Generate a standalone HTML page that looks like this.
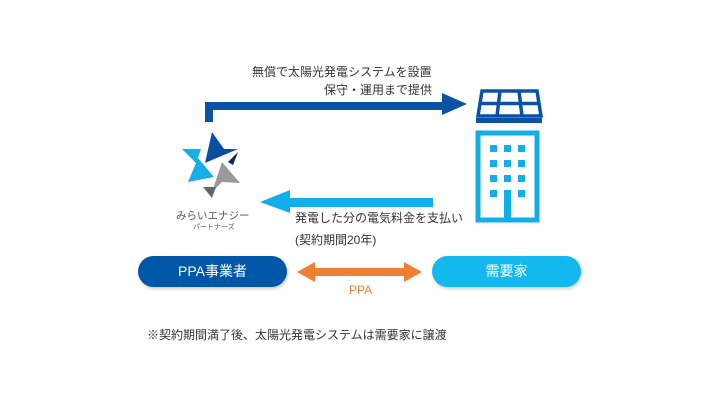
<!DOCTYPE html>
<html><head><meta charset="utf-8"><style>
body{margin:0;width:720px;height:405px;background:#fff;overflow:hidden;position:relative;font-family:"Liberation Sans","Noto Sans CJK JP",sans-serif;color:#333}
.t{position:absolute;white-space:nowrap;font-size:12px}
.btn{position:absolute;top:256px;width:149px;height:31px;border-radius:16px;color:#fff;font-size:14px;text-align:center;line-height:31px;box-shadow:1px 2px 3px rgba(0,0,0,.2)}
</style></head><body>
<svg width="720" height="405" style="position:absolute;left:0;top:0">
<path d="M205 122 V102 H442 V93 L467 104 L442 115 V110 H213 V122 Z" fill="#0a52a3"/>
<path d="M433 198 H290 V190 L260 202 L290 213 V207 H433 Z" fill="#12aee9"/>
<path d="M297 272 L315 262 V268 H404 V262 L422 272 L404 282 V276 H315 V282 Z" fill="#ee7f33"/>
<path d="M482 91 H537 L541 116 H478 Z" fill="none" stroke="#0a52a3" stroke-width="3.5"/>
<path d="M500 91 L497 116 M519 91 L522 116 M480 103.5 H539" stroke="#0a52a3" stroke-width="3.5"/>
<rect x="476" y="118" width="66" height="5" fill="#0a52a3"/>
<rect x="478" y="133" width="59" height="87" fill="none" stroke="#12aee9" stroke-width="5"/>
<g fill="#12aee9">
<rect x="490" y="145" width="7" height="7"/><rect x="504" y="145" width="7" height="7"/><rect x="518" y="145" width="7" height="7"/>
<rect x="490" y="160" width="7" height="7"/><rect x="504" y="160" width="7" height="7"/><rect x="518" y="160" width="7" height="7"/>
<rect x="490" y="175" width="7" height="7"/><rect x="504" y="175" width="7" height="7"/><rect x="518" y="175" width="7" height="7"/>
<rect x="490" y="190" width="7" height="7"/><rect x="518" y="190" width="7" height="7"/>
<rect x="504" y="190" width="7" height="30"/>
</g>
<polygon points="212,132 224,149 238,149 205,163" fill="#0a4ea2"/>
<polygon points="238,152 228,162 233,165" fill="#0d2a5a"/>
<polygon points="182,149 201,149 198,158 214,177 188,182 196,163" fill="#1aaee8"/>
<polygon points="222,162 240,183 222,182 212,192" fill="#9a9a9a"/>
<polygon points="203,187 216,187 212,198" fill="#666"/>
</svg>
<div class="t" style="left:252px;top:63px">無償で太陽光発電システムを設置</div>
<div class="t" style="left:324px;top:81px">保守・運用まで提供</div>
<div class="t" style="left:295px;top:209px">発電した分の電気料金を支払い</div>
<div class="t" style="left:295px;top:231px">(契約期間20年)</div>
<div class="t" style="left:176px;top:208px;font-size:10.5px;color:#555">みらいエナジー</div>
<div class="t" style="left:193px;top:222px;font-size:7px;color:#555">パートナーズ</div>
<div class="btn" style="left:138px;background:#0057a8">PPA事業者</div>
<div class="btn" style="left:432px;background:#12b8ee">需要家</div>
<div class="t" style="left:349px;top:283px;color:#ee7f33;font-size:12px">PPA</div>
<div class="t" style="left:147px;top:326px;font-size:12px">※契約期間満了後、太陽光発電システムは需要家に譲渡</div>
</body></html>
